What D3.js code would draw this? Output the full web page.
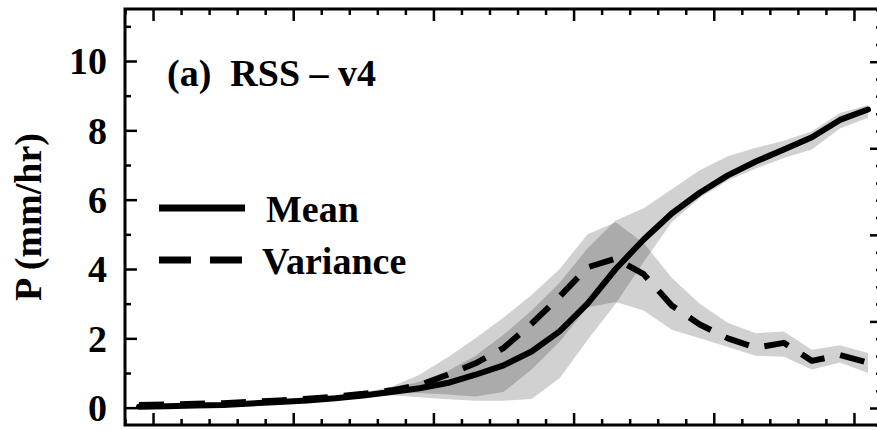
<!DOCTYPE html>
<html>
<head>
<meta charset="utf-8">
<script src="https://d3js.org/d3.v7.min.js"></script>
<style>
  body { margin: 0; background: #fff; }
  text { font-family: "Liberation Serif", "Times New Roman", serif; font-weight: bold; }
</style>
</head>
<body>
<svg id="chart"></svg>
<script>
var width = 877
var height = 430

// bin centres along the x axis (no labels visible on the figure)
var binCentres = [-0.5, 0.5, 1.5, 2.5, 3.5, 4.5, 5.5, 6.5, 7.5, 8.5, 9.5, 10.5, 11.5, 12.5,
                  13.5, 14.5, 15.5, 16.5, 17.5, 18.5, 19.5, 20.5, 21.5, 22.5, 23.5, 24.5, 25.5]

var meanP   = [0.03, 0.04, 0.06, 0.08, 0.12, 0.16, 0.21, 0.27, 0.35, 0.45, 0.56, 0.71, 0.95, 1.22,
               1.62, 2.2, 3.0, 4.0, 4.85, 5.6, 6.2, 6.7, 7.1, 7.45, 7.8, 8.3, 8.6]
var meanHi  = [0.06, 0.07, 0.09, 0.11, 0.15, 0.19, 0.25, 0.31, 0.4, 0.55, 0.75, 1.05, 1.5, 2.1,
               2.8, 3.6, 4.6, 5.4, 5.75, 6.3, 6.85, 7.25, 7.5, 7.7, 7.97, 8.5, 8.73]
var meanLo  = [0.0, 0.01, 0.03, 0.05, 0.09, 0.13, 0.17, 0.23, 0.3, 0.36, 0.3, 0.24, 0.2, 0.2,
               0.25, 0.85, 1.95, 3.0, 4.2, 5.35, 6.05, 6.55, 6.9, 7.2, 7.45, 8.05, 8.36]

var varP    = [0.08, 0.09, 0.11, 0.13, 0.17, 0.21, 0.26, 0.32, 0.4, 0.5, 0.65, 0.95, 1.28, 1.72,
               2.42, 3.2, 4.05, 4.3, 3.85, 2.95, 2.4, 2.0, 1.73, 1.87, 1.35, 1.52, 1.3]
var varHi   = [0.1, 0.11, 0.13, 0.15, 0.19, 0.23, 0.29, 0.35, 0.44, 0.6, 0.95, 1.45, 2.0, 2.6,
               3.25, 4.0, 5.0, 5.35, 4.75, 3.75, 3.0, 2.45, 2.15, 2.2, 1.67, 1.8, 1.58]
var varLo   = [0.02, 0.03, 0.05, 0.07, 0.11, 0.15, 0.2, 0.26, 0.33, 0.4, 0.42, 0.38, 0.32, 0.45,
               1.1, 1.9, 2.9, 3.05, 2.8, 2.25, 2.0, 1.75, 1.5, 1.47, 1.1, 1.3, 1.0]

var yTickLabels = [0, 2, 4, 6, 8, 10]
var legendNames = ["Mean", "Variance"]
var panelTitle = "(a)  RSS \u2013 v4"
var yTitle = "P (mm/hr)"

// plot frame (note: "top" is taken by window.top, so prefix them)
var frameL = 125, frameR = 882, frameT = 9, frameB = 425

var svg = d3.select("#chart")
    .attr("width", width)
    .attr("height", height)

var x = d3.scaleLinear().domain([-1, 26]).range([frameL, frameR])
var y = d3.scaleLinear().domain([-0.5, 11.5]).range([frameB, frameT])
// right hand axis has its own (unlabelled) scale
var yR = d3.scaleLinear().domain([0, 4]).range([408, 61.7])

var rows = binCentres.map((c, i) => ({x: c, m: meanP[i], mHi: meanHi[i], mLo: meanLo[i],
                                      v: varP[i], vHi: varHi[i], vLo: varLo[i]}))

var plot = svg.append("g")

// shaded bands, overlap gets darker
var meanArea = d3.area().x(d => x(d.x)).y0(d => y(d.mLo)).y1(d => y(d.mHi))
var varArea = d3.area().x(d => x(d.x)).y0(d => y(d.vLo)).y1(d => y(d.vHi))
plot.append("path").datum(rows).attr("d", meanArea).attr("fill", "#000").attr("fill-opacity", 0.18)
plot.append("path").datum(rows).attr("d", varArea).attr("fill", "#000").attr("fill-opacity", 0.18)

var meanLine = d3.line().x(d => x(d.x)).y(d => y(d.m))
var varLine = d3.line().x(d => x(d.x)).y(d => y(d.v))

plot.append("path").datum(rows).attr("d", varLine)
    .attr("fill", "none").attr("stroke", "#000").attr("stroke-width", 6)
    .attr("stroke-dasharray", "25,16").attr("stroke-linejoin", "round")
plot.append("path").datum(rows).attr("d", meanLine)
    .attr("fill", "none").attr("stroke", "#000").attr("stroke-width", 6)
    .attr("stroke-linejoin", "round").attr("stroke-linecap", "round")

// axes - all ticks point inward
function styleAxis(g) {
    g.select(".domain").remove()
    g.selectAll("line").attr("stroke", "#000").attr("stroke-width", 2.5)
}

var xMajor = [0, 5, 10, 15, 20, 25]
var xMinor = d3.range(-1, 27).filter(t => xMajor.indexOf(t) < 0)

svg.append("g").attr("transform", `translate(0,${frameB})`)
    .call(d3.axisTop(x).tickValues(xMajor).tickSize(12).tickFormat("")).call(styleAxis)
svg.append("g").attr("transform", `translate(0,${frameB})`)
    .call(d3.axisTop(x).tickValues(xMinor).tickSize(6).tickFormat("")).call(styleAxis)
svg.append("g").attr("transform", `translate(0,${frameT})`)
    .call(d3.axisBottom(x).tickValues(xMajor).tickSize(12).tickFormat("")).call(styleAxis)
svg.append("g").attr("transform", `translate(0,${frameT})`)
    .call(d3.axisBottom(x).tickValues(xMinor).tickSize(6).tickFormat("")).call(styleAxis)

var yAxis = svg.append("g").attr("transform", `translate(${frameL},0)`)
    .call(d3.axisRight(y).tickValues(yTickLabels).tickSize(12).tickFormat(d3.format("d")))
    .call(styleAxis)
yAxis.selectAll("text")
    .attr("x", -18).attr("dy", "0.34em")
    .attr("text-anchor", "end")
    .attr("font-size", "38px")
    .attr("fill", "#000")
svg.append("g").attr("transform", `translate(${frameL},0)`)
    .call(d3.axisRight(y).tickValues([1, 3, 5, 7, 9, 11]).tickSize(6).tickFormat("")).call(styleAxis)

var rMajor = [0, 1, 2, 3, 4]
var rMinor = d3.range(-0.2, 4.7, 0.2).filter(t => Math.abs(t - Math.round(t)) > 0.05)
svg.append("g").attr("transform", `translate(${frameR},0)`)
    .call(d3.axisLeft(yR).tickValues(rMajor).tickSize(12).tickFormat("")).call(styleAxis)
svg.append("g").attr("transform", `translate(${frameR},0)`)
    .call(d3.axisLeft(yR).tickValues(rMinor).tickSize(6).tickFormat("")).call(styleAxis)

// frame
svg.append("rect")
    .attr("x", frameL).attr("y", frameT)
    .attr("width", frameR - frameL).attr("height", frameB - frameT)
    .attr("fill", "none").attr("stroke", "#000").attr("stroke-width", 3)

svg.append("text")
    .attr("x", 167).attr("y", 86)
    .attr("font-size", "38px")
    .style("white-space", "pre")
    .text(panelTitle)

svg.append("text")
    .attr("transform", "translate(41,217) rotate(-90)")
    .attr("text-anchor", "middle")
    .attr("font-size", "38px")
    .text(yTitle)

// legend
var legendY = [208, 260]
var legend = svg.append("g")
legendNames.forEach((name, i) => {
    legend.append("line")
        .attr("x1", 159).attr("x2", 245)
        .attr("y1", legendY[i]).attr("y2", legendY[i])
        .attr("stroke", "#000").attr("stroke-width", 7)
        .attr("stroke-dasharray", i == 1 ? "32,19" : null)
    legend.append("text")
        .attr("x", i == 0 ? 266 : 262).attr("y", legendY[i] + 14)
        .attr("font-size", "38px")
        .text(name)
})
</script>
</body>
</html>
